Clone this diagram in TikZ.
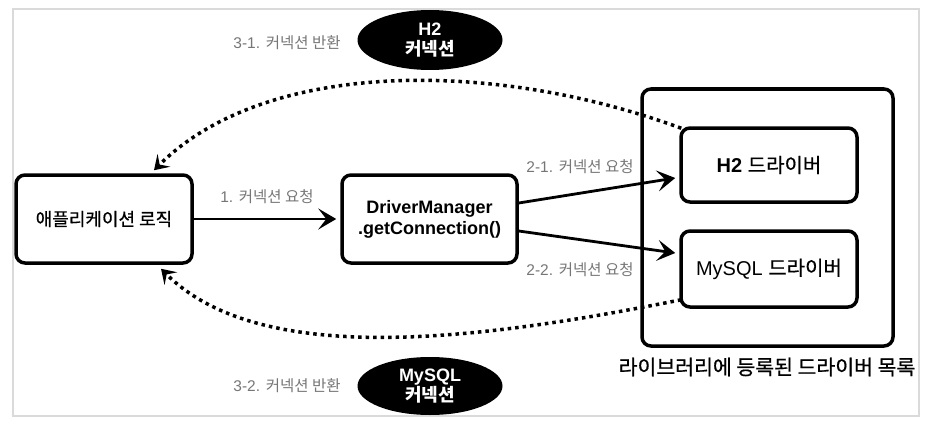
\documentclass[tikz,border=0pt]{standalone}
\usepackage{fontspec}
\setmainfont{Liberation Sans}
\newfontfamily\kr{Noto Sans CJK KR}
\newfontfamily\krm[FakeBold=0.6]{Noto Sans CJK KR}
\usetikzlibrary{arrows.meta,shapes.geometric,calc}
\definecolor{lblc}{HTML}{767676}
\definecolor{framec}{HTML}{DADADA}
\newcommand{\kor}[1]{{\kr #1}}
\newcommand{\korm}[1]{{\krm #1}}
\begin{document}
\begin{tikzpicture}[x=1pt,y=-1pt,
  box/.style={draw,line width=3.5pt,rounded corners=9pt,align=center,inner sep=0pt,font=\fontsize{20}{22}\selectfont},
  lbl/.style={text=lblc,font=\fontsize{15.5}{17}\selectfont,inner sep=1pt},
  flow/.style={line width=2.8pt,-{Stealth[length=18pt,width=21pt,inset=8pt]}},
  ret/.style={line width=3.5pt,dash pattern=on 3.5pt off 4pt,-{Stealth[length=14pt,width=18pt,inset=6pt]}},
  conn/.style={ellipse,fill=black,text=white,minimum width=145pt,minimum height=60pt,inner sep=0pt,align=center,font=\fontsize{18}{20}\selectfont\bfseries}]
\useasboundingbox (0,0) rectangle (948,428);
\draw[framec,line width=1.5pt] (13,9) rectangle (919,416);

\node[box,minimum width=176pt,minimum height=88pt,font=\fontsize{18}{20}\selectfont] (app) at (104,219) {\korm{애플리케이션 로직}};
\node[box,minimum width=175pt,minimum height=88pt,font=\fontsize{18}{21}\selectfont\bfseries] (dm) at (429.5,219) {DriverManager\\.getConnection()};
\node[box,minimum width=251pt,minimum height=257pt] (lib) at (767.5,217.5) {};
\node[box,minimum width=176pt,minimum height=74pt] (h2) at (769,165) {\textbf{H2} \korm{드라이버}};
\node[box,minimum width=176pt,minimum height=76pt] (my) at (769,269) {MySQL \korm{드라이버}};
\node[font=\fontsize{20.5}{22}\selectfont] (libl) at (767,367) {\korm{라이브러리에 등록된 드라이버 목록}};

\node[conn] (c1) at (430,40) {H2\\\kor{커넥션}};
\node[conn,minimum height=58pt] (c2) at (430,386) {MySQL\\\kor{커넥션}};

\node[lbl] (l31) at (287,43) {3-1. \kor{커넥션 반환}};
\node[lbl] (l32) at (287,386) {3-2. \kor{커넥션 반환}};
\node[lbl] (l1) at (267,197) {1. \kor{커넥션 요청}};
\node[lbl] (l21) at (580,167) {2-1. \kor{커넥션 요청}};
\node[lbl] (l22) at (580,270) {2-2. \kor{커넥션 요청}};

\draw[flow] (app.east) -- ([xshift=-4pt]dm.west);
\draw[flow] ([yshift=16pt]dm.east) -- ([xshift=-4pt,yshift=-13pt]h2.west);
\draw[flow] ([yshift=-12pt]dm.east) -- ([xshift=-4pt,yshift=16pt]my.west);
\draw[ret] ([xshift=2pt,yshift=-2pt]h2.north west) .. controls +(-190,-70) and +(110,-110) .. ([xshift=50pt,yshift=3pt]app.north);
\draw[ret] ([xshift=2pt,yshift=9pt]my.south west) .. controls +(-200,40) and +(100,100) .. ([xshift=57pt,yshift=-4pt]app.south);
\end{tikzpicture}
\end{document}
